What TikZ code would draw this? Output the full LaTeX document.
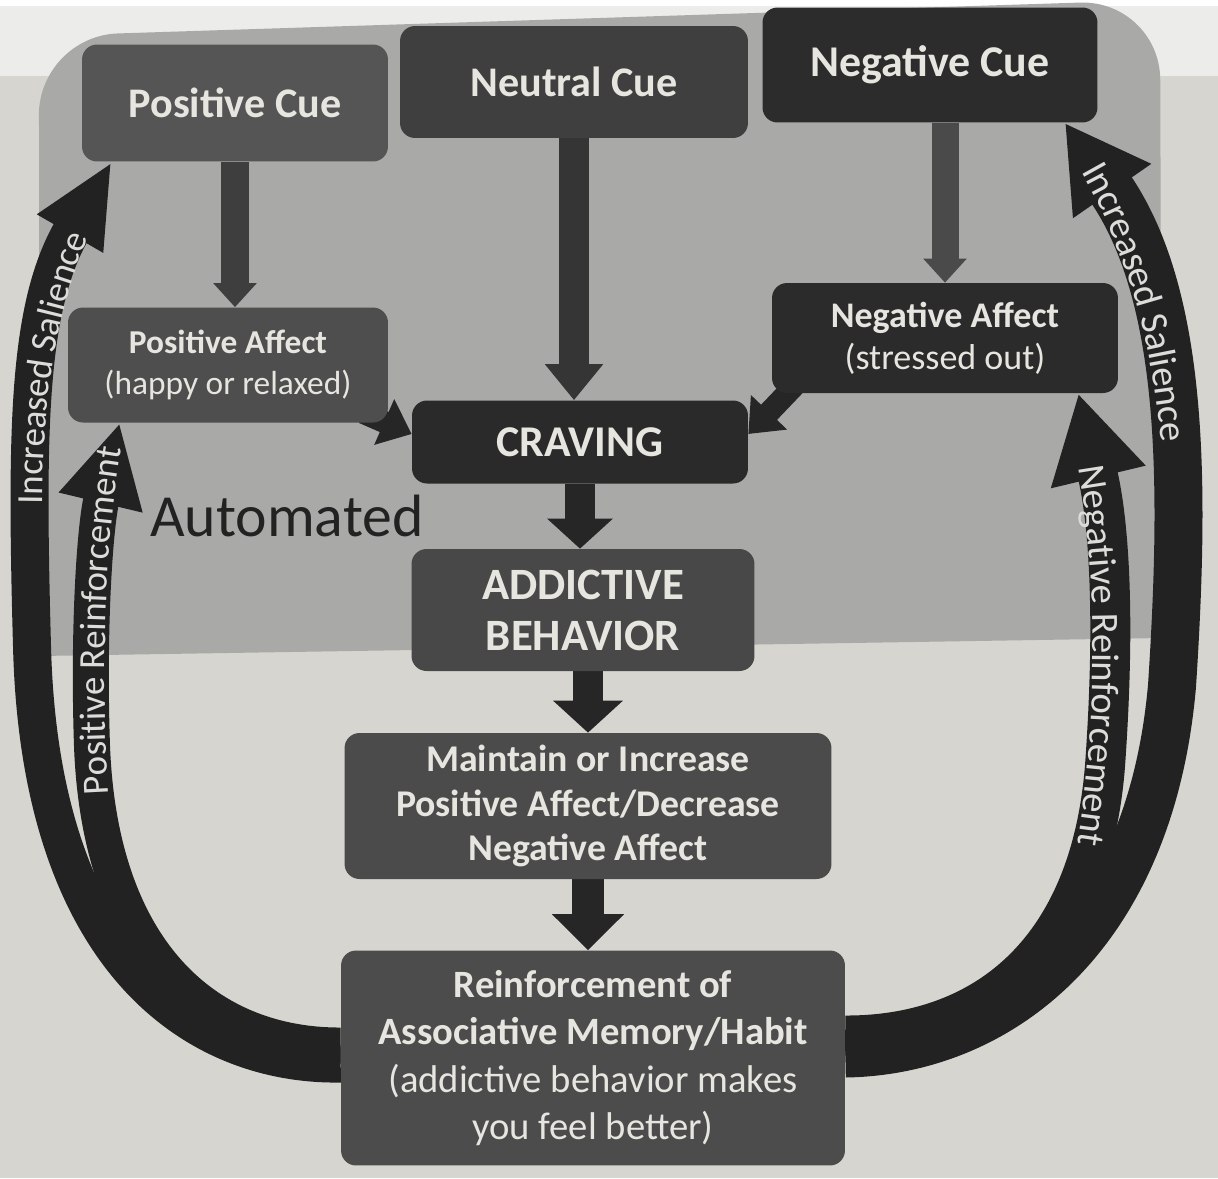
\documentclass[tikz,border=0pt]{standalone}
\usepackage{fontspec}
\setmainfont{Carlito}
\usetikzlibrary{arrows.meta,decorations.text}
\definecolor{pagec}{HTML}{D7D5CF}
\definecolor{topc}{HTML}{ECECEA}
\definecolor{regc}{HTML}{A9A9A7}
\definecolor{bandc}{HTML}{222222}
\definecolor{txtc}{HTML}{E6E5DF}
\definecolor{labc}{HTML}{DCDCD8}
\definecolor{cposcue}{HTML}{555555}
\definecolor{cneucue}{HTML}{3F3F3F}
\definecolor{cnegcue}{HTML}{2C2C2C}
\definecolor{cposaff}{HTML}{4E4E4E}
\definecolor{cnegaff}{HTML}{2B2B2B}
\definecolor{ccrav}{HTML}{2A2A2A}
\definecolor{cadd}{HTML}{484848}
\definecolor{cmaint}{HTML}{4B4B4B}
\definecolor{creinf}{HTML}{4C4C4C}
\definecolor{apos}{HTML}{3E3E3E}
\definecolor{aneu}{HTML}{353535}
\definecolor{aneg}{HTML}{4A4A4A}
\definecolor{adark}{HTML}{262626}
\definecolor{autoc}{HTML}{222222}
\pgfdeclarelayer{bottom}
\pgfdeclarelayer{mid}
\pgfsetlayers{bottom,mid,main}
\newcommand{\lblfont}[1]{\fontsize{#1}{#1}\selectfont\color{labc}}
\begin{document}
\begin{tikzpicture}[x=0.02cm,y=-0.02cm,
  box/.style={rounded corners=0.3cm, inner sep=0pt, text=txtc, align=center},
  band/.style={draw=bandc, line width=#1},
  lbl/.style={decorate, decoration={text along path, text align=center, raise=-7pt, text={#1}}},
  sarrow/.style n args={4}{draw=#4, line width=#1, -{Triangle[width=#2,length=#3]}}
]
\begin{pgfonlayer}{bottom}
\fill[pagec] (0,0) rectangle (1218,1172);
\fill[topc] (0,0) rectangle (1218,70);
\fill[regc] (40,650) -- (39,120) [rounded corners=1.6cm] -- (38,30) -- (1160,-6) [sharp corners] -- (1162,632) -- cycle;
\end{pgfonlayer}

% boxes
\node[box, fill=cposcue, minimum width=6.12cm, minimum height=2.34cm, font=\bfseries\fontsize{24}{28}\selectfont] (poscue) at (235,97) {Positive Cue};
\node[box, fill=cneucue, minimum width=6.96cm, minimum height=2.24cm, font=\bfseries\fontsize{24}{28}\selectfont] (neucue) at (574,76) {Neutral Cue};
\node[box, fill=cnegcue, minimum width=6.7cm, minimum height=2.3cm, font=\bfseries\fontsize{25}{28}\selectfont] (negcue) at (930,59) {Negative Cue};
\node[box, fill=cposaff, minimum width=6.4cm, minimum height=2.3cm, font=\fontsize{19}{23}\selectfont] (posaff) at (228,359) {\textbf{Positive Affect}\\(happy or relaxed)};
\node[box, fill=cnegaff, minimum width=6.92cm, minimum height=2.2cm, font=\fontsize{20.5}{24}\selectfont] (negaff) at (945,332) {\textbf{Negative Affect}\\(stressed out)};
\node[box, fill=ccrav, minimum width=6.72cm, minimum height=1.66cm, font=\bfseries\fontsize{25}{29}\selectfont] (craving) at (580,436) {CRAVING};
\node[box, fill=cadd, minimum width=6.86cm, minimum height=2.44cm, font=\bfseries\fontsize{25.5}{29}\selectfont] (addict) at (583,604) {ADDICTIVE\\BEHAVIOR};
\node[box, fill=cmaint, minimum width=9.74cm, minimum height=2.92cm, font=\bfseries\fontsize{21.5}{25.5}\selectfont] (maintain) at (588,800) {Maintain or Increase\\Positive Affect/Decrease\\Negative Affect};
\node[box, fill=creinf, minimum width=10.08cm, minimum height=4.3cm, font=\fontsize{22}{27}\selectfont] (reinf) at (593,1052) {\textbf{Reinforcement of}\\\textbf{Associative Memory/Habit}\\(addictive behavior makes\\you feel better)};

\node[anchor=base west, inner sep=0pt, text=autoc, font=\fontsize{34}{34}\selectfont] (auto) at (150,530) {Automated};

\begin{pgfonlayer}{mid}
% straight arrows
\draw[sarrow={0.56cm}{0.84cm}{0.48cm}{apos}] (poscue.south) -- (poscue.south |- posaff.north);
\draw[sarrow={0.6cm}{1.12cm}{0.72cm}{aneu}] (neucue.south) -- (neucue.south |- craving.north);
\draw[sarrow={0.54cm}{0.84cm}{0.48cm}{aneg}] (negaff.north |- negcue.south) -- (negaff.north);
\draw[sarrow={0.6cm}{1.28cm}{0.6cm}{adark}] (craving.south) -- (craving.south |- addict.north);
\draw[sarrow={0.6cm}{1.36cm}{0.64cm}{adark}] (maintain.north |- addict.south) -- (maintain.north);
\draw[sarrow={0.64cm}{1.4cm}{0.72cm}{adark}] (maintain.south) -- (maintain.south |- reinf.north);
\draw[sarrow={0.44cm}{0.96cm}{0.6cm}{adark}] ([xshift=-0.5cm,yshift=0.2cm]posaff.south east) -- ([yshift=0.16cm]craving.west);
\draw[sarrow={0.44cm}{0.96cm}{0.6cm}{adark}] ([xshift=0.5cm,yshift=0.2cm]negaff.south west) -- ([yshift=0.16cm]craving.east);

% big feedback arrows
\coordinate (lotip) at ([xshift=0.6cm]poscue.south west);
\coordinate (litip) at ([xshift=1.04cm]posaff.south west);
\coordinate (rotip) at ([xshift=-0.66cm]negcue.south east);
\coordinate (ritip) at ([xshift=-0.8cm]negaff.south east);
\coordinate (los) at ([yshift=-0.11cm]reinf.west);
\coordinate (lis) at ([yshift=0.25cm]reinf.west);
\coordinate (ros) at ([yshift=0.09cm]reinf.east);
\coordinate (ris) at ([yshift=0.45cm]reinf.east);

\draw[band=0.76cm, -{Triangle[width=1.4cm,length=1.66cm]}] (los) .. controls (200,1060) and (40,960) .. (32,640) .. controls (26,420) and (28,300) .. (lotip);
\draw[band=0.72cm, -{Triangle[width=1.6cm,length=1.64cm]}] (lis) .. controls (210,1040) and (100,950) .. (92,740) .. controls (88,620) and (95,520) .. (litip);
\draw[band=0.96cm, -{Triangle[width=1.78cm,length=1.66cm]}] (ros) .. controls (1000,1045) and (1150,930) .. (1172,680) .. controls (1185,480) and (1185,290) .. (rotip);
\draw[band=0.8cm, -{Triangle[width=1.82cm,length=1.72cm]}] (ris) .. controls (980,1030) and (1090,950) .. (1105,760) .. controls (1115,620) and (1110,520) .. (ritip);

% labels on the feedback arrows
\path[lbl={|\lblfont{21}|Increased Salience}] (30,519) .. controls (30,393) and (41,303) .. (85,208);
\path[lbl={|\lblfont{21}|Positive Reinforcement}] (98,820) .. controls (89,690) and (89,540) .. (115,410);
\path[lbl={|\lblfont{22}|Increased Salience}] (1081,141) .. controls (1143,242) and (1168,347) .. (1175,457);
\path[lbl={|\lblfont{22}|Negative Reinforcement}] (1085,430) .. controls (1112,560) and (1112,720) .. (1085,870);
\end{pgfonlayer}
\end{tikzpicture}
\end{document}
